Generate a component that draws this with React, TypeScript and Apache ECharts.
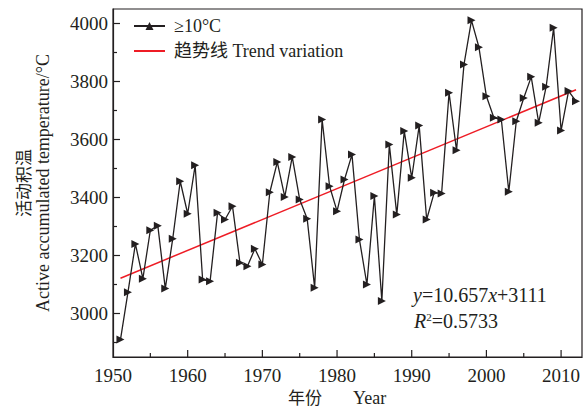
import React, { useEffect, useRef } from "react";
import * as echarts from "echarts";

const years = [
  1951, 1952, 1953, 1954, 1955, 1956, 1957, 1958, 1959, 1960,
  1961, 1962, 1963, 1964, 1965, 1966, 1967, 1968, 1969, 1970,
  1971, 1972, 1973, 1974, 1975, 1976, 1977, 1978, 1979, 1980,
  1981, 1982, 1983, 1984, 1985, 1986, 1987, 1988, 1989, 1990,
  1991, 1992, 1993, 1994, 1995, 1996, 1997, 1998, 1999, 2000,
  2001, 2002, 2003, 2004, 2005, 2006, 2007, 2008, 2009, 2010,
  2011, 2012,
];
const activeTemp = [
  2910, 3073, 3240, 3120, 3287, 3303, 3086, 3258, 3456, 3344,
  3511, 3117, 3111, 3347, 3324, 3370, 3175, 3163, 3223, 3169,
  3418, 3522, 3402, 3540, 3393, 3327, 3089, 3669, 3439, 3353,
  3462, 3548, 3255, 3100, 3405, 3043, 3583, 3341, 3629, 3468,
  3648, 3324, 3416, 3414, 3761, 3563, 3859, 4011, 3918, 3749,
  3675, 3669, 3420, 3663, 3743, 3816, 3658, 3782, 3985, 3631,
  3767, 3732,
];
const trendYears = [1951, 2012];
const trendValues = [3121.7, 3771.7];
const yTickValues = [2900, 3000, 3100, 3200, 3300, 3400, 3500, 3600, 3700, 3800, 3900, 4000];
const xTickValues = [1955, 1960, 1965, 1970, 1975, 1980, 1985, 1990, 1995, 2000, 2005, 2010];

const X_MIN = 1950;
const X_MAX = 2012.8;
const Y_MIN = 2850;
const Y_MAX = 4050;

const SERIF = '"Liberation Serif", "Times New Roman", "DejaVu Serif", "Noto Sans CJK SC", serif';
const INK = "#231f20";
const RED = "#ee1c25";
const SERIES_NAME = "≥10°C";
const TREND_NAME = "趋势线 Trend variation";

export default function App() {
  const ref = useRef<HTMLDivElement>(null);
  useEffect(() => {
    if (!ref.current) return;
    const chart = echarts.init(ref.current, null, { renderer: "svg" });
    const option: any = {
      animation: false,
      backgroundColor: "#ffffff",
      grid: {
        left: 113, right: 2, top: 9, bottom: 53,
        show: true, borderColor: INK, borderWidth: 1.2, backgroundColor: "transparent",
      },
      legend: {
        data: [
          { name: SERIES_NAME },
          { name: TREND_NAME, itemStyle: { opacity: 0 } },
        ],
        orient: "vertical",
        left: 133, top: 17, padding: 0,
        itemWidth: 31, itemHeight: 10, itemGap: 7,
        symbolRotate: 0,
        textStyle: { fontFamily: SERIF, fontSize: 18, color: INK, padding: [0, 0, 0, 4] },
      },
      xAxis: {
        type: "value", min: X_MIN, max: X_MAX, interval: 5,
        axisLine: { show: true, lineStyle: { color: INK, width: 1.2 } },
        axisTick: { show: false },
        splitLine: { show: false },
        axisLabel: {
          margin: 9, fontFamily: SERIF, fontSize: 19, color: INK,
          formatter: (v: number) => (Math.abs(v % 10) < 1e-6 ? String(v) : ""),
        },
      },
      yAxis: {
        type: "value", min: Y_MIN, max: Y_MAX, interval: 50,
        axisLine: { show: true, lineStyle: { color: INK, width: 1.2 } },
        axisTick: { show: false },
        splitLine: { show: false },
        axisLabel: {
          margin: 5, fontFamily: SERIF, fontSize: 19, color: INK,
          formatter: (v: number) => (Math.abs(v % 200) < 1e-6 ? String(v) : ""),
        },
      },
      series: [
        {
          name: SERIES_NAME, type: "line",
          data: years.map((y, i) => [y, activeTemp[i]]),
          symbol: "triangle", symbolRotate: -90, symbolSize: 8,
          lineStyle: { color: INK, width: 1.3 },
          itemStyle: { color: INK },
          z: 3,
        },
        {
          name: TREND_NAME, type: "line",
          data: trendYears.map((y, i) => [y, trendValues[i]]),
          symbol: "none",
          lineStyle: { color: RED, width: 1.5 },
          itemStyle: { color: RED },
          z: 2,
        },
        {
          type: "custom", silent: true, clip: false,
          data: yTickValues.map((v) => [X_MIN, v]),
          renderItem: (_p: any, api: any) => {
            const v = api.value(1);
            const pt = api.coord([X_MIN, v]);
            const len = v % 200 === 0 ? 7 : 4;
            return { type: "line", shape: { x1: pt[0], y1: pt[1], x2: pt[0] + len, y2: pt[1] }, style: { stroke: INK, lineWidth: 1.2 } };
          },
        },
        {
          type: "custom", silent: true, clip: false,
          data: xTickValues.map((v) => [v, Y_MIN]),
          renderItem: (_p: any, api: any) => {
            const v = api.value(0);
            const pt = api.coord([v, Y_MIN]);
            const len = v % 10 === 0 ? 7 : 4;
            return { type: "line", shape: { x1: pt[0], y1: pt[1], x2: pt[0], y2: pt[1] - len }, style: { stroke: INK, lineWidth: 1.2 } };
          },
        },
      ],
      graphic: [
        {
          type: "text", x: 24, y: 183, rotation: Math.PI / 2,
          style: { text: "活动积温", font: `17px ${SERIF}`, fill: INK, align: "center", verticalAlign: "middle" },
        },
        {
          type: "text", x: 43, y: 183, rotation: Math.PI / 2,
          style: { text: "Active accumulated temperature/°C", font: `18px ${SERIF}`, fill: INK, align: "center", verticalAlign: "middle" },
        },
        {
          type: "text", x: 288, y: 398,
          style: { text: "年份", font: `17px ${SERIF}`, fill: INK, align: "left", verticalAlign: "middle" },
        },
        {
          type: "text", x: 353, y: 398,
          style: { text: "Year", font: `18px ${SERIF}`, fill: INK, align: "left", verticalAlign: "middle" },
        },
        {
          type: "text", x: 413, y: 295,
          style: {
            text: "{i|y}=10.657{i|x}+3111",
            font: `20px ${SERIF}`, fill: INK, align: "left", verticalAlign: "middle",
            rich: { i: { fontStyle: "italic", fontFamily: SERIF, fontSize: 20, fill: INK } },
          },
        },
        {
          type: "text", x: 414, y: 321,
          style: {
            text: "{i|R}{s|2}=0.5733",
            font: `20px ${SERIF}`, fill: INK, align: "left", verticalAlign: "middle",
            rich: {
              i: { fontStyle: "italic", fontFamily: SERIF, fontSize: 20, fill: INK },
              s: { fontFamily: SERIF, fontSize: 11, fill: INK, verticalAlign: "top", padding: [0, 0, 8, 0] },
            },
          },
        },
      ],
    };
    chart.setOption(option);
    return () => chart.dispose();
  }, []);
  return (
    <div
      ref={ref}
      style={{ position: "absolute", left: 0, top: 0, width: 585, height: 410 }}
    />
  );
}
